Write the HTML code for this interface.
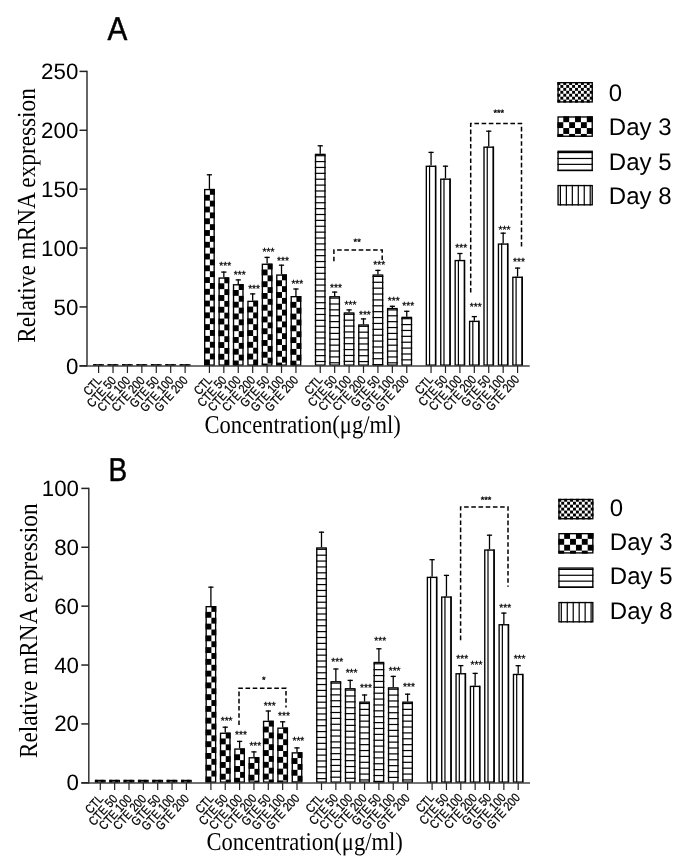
<!DOCTYPE html>
<html><head><meta charset="utf-8"><style>
html,body{margin:0;padding:0;background:#fff;}
svg{display:block;}
text{text-rendering:geometricPrecision;}
.wrap{will-change:transform;}
text{fill:#000;}
.yt{font-family:"Liberation Sans",sans-serif;font-size:22.3px;}
.xt{font-family:"Liberation Sans",sans-serif;font-size:12.5px;stroke:#000;stroke-width:0.25px;}
.st{font-family:"Liberation Sans",sans-serif;fill:#000;stroke:#000;stroke-width:0.3px;}
.lg{font-family:"Liberation Sans",sans-serif;font-size:24px;}
.ti{font-family:"Liberation Sans",sans-serif;font-size:33px;stroke:#000;stroke-width:0.5px;}
.yl{font-family:"Liberation Serif",serif;font-size:26px;}
.xl{font-family:"Liberation Serif",serif;font-size:25.5px;}
</style></head><body>
<div class="wrap"><svg width="685" height="857" viewBox="0 0 685 857">
<rect width="685" height="857" fill="#fff"/>
<rect x="93.2" y="364.2" width="2.94" height="1.6"/>
<rect x="99.08" y="364.2" width="2.94" height="1.6"/>
<rect x="93.87" y="364.88" width="9.45" height="0.25" fill="none" stroke="#000" stroke-width="1.35"/>
<rect x="107.62" y="364.2" width="2.94" height="1.6"/>
<rect x="113.5" y="364.2" width="2.94" height="1.6"/>
<rect x="108.29" y="364.88" width="9.45" height="0.25" fill="none" stroke="#000" stroke-width="1.35"/>
<rect x="122.04" y="364.2" width="2.94" height="1.6"/>
<rect x="127.92" y="364.2" width="2.94" height="1.6"/>
<rect x="122.71" y="364.88" width="9.45" height="0.25" fill="none" stroke="#000" stroke-width="1.35"/>
<rect x="136.46" y="364.2" width="2.94" height="1.6"/>
<rect x="142.34" y="364.2" width="2.94" height="1.6"/>
<rect x="137.13" y="364.88" width="9.45" height="0.25" fill="none" stroke="#000" stroke-width="1.35"/>
<rect x="150.88" y="364.2" width="2.94" height="1.6"/>
<rect x="156.76" y="364.2" width="2.94" height="1.6"/>
<rect x="151.56" y="364.88" width="9.45" height="0.25" fill="none" stroke="#000" stroke-width="1.35"/>
<rect x="165.3" y="364.2" width="2.94" height="1.6"/>
<rect x="171.18" y="364.2" width="2.94" height="1.6"/>
<rect x="165.97" y="364.88" width="9.45" height="0.25" fill="none" stroke="#000" stroke-width="1.35"/>
<rect x="179.72" y="364.2" width="2.94" height="1.6"/>
<rect x="185.6" y="364.2" width="2.94" height="1.6"/>
<rect x="180.4" y="364.88" width="9.45" height="0.25" fill="none" stroke="#000" stroke-width="1.35"/>
<rect x="209.9" y="188.9" width="4.92" height="5.88"/>
<rect x="204.02" y="194.78" width="5.88" height="5.88"/>
<rect x="209.9" y="200.66" width="4.92" height="5.88"/>
<rect x="204.02" y="206.54" width="5.88" height="5.88"/>
<rect x="209.9" y="212.42" width="4.92" height="5.88"/>
<rect x="204.02" y="218.3" width="5.88" height="5.88"/>
<rect x="209.9" y="224.18" width="4.92" height="5.88"/>
<rect x="204.02" y="230.06" width="5.88" height="5.88"/>
<rect x="209.9" y="235.94" width="4.92" height="5.88"/>
<rect x="204.02" y="241.82" width="5.88" height="5.88"/>
<rect x="209.9" y="247.7" width="4.92" height="5.88"/>
<rect x="204.02" y="253.58" width="5.88" height="5.88"/>
<rect x="209.9" y="259.46" width="4.92" height="5.88"/>
<rect x="204.02" y="265.34" width="5.88" height="5.88"/>
<rect x="209.9" y="271.22" width="4.92" height="5.88"/>
<rect x="204.02" y="277.1" width="5.88" height="5.88"/>
<rect x="209.9" y="282.98" width="4.92" height="5.88"/>
<rect x="204.02" y="288.86" width="5.88" height="5.88"/>
<rect x="209.9" y="294.74" width="4.92" height="5.88"/>
<rect x="204.02" y="300.62" width="5.88" height="5.88"/>
<rect x="209.9" y="306.5" width="4.92" height="5.88"/>
<rect x="204.02" y="312.38" width="5.88" height="5.88"/>
<rect x="209.9" y="318.26" width="4.92" height="5.88"/>
<rect x="204.02" y="324.14" width="5.88" height="5.88"/>
<rect x="209.9" y="330.02" width="4.92" height="5.88"/>
<rect x="204.02" y="335.9" width="5.88" height="5.88"/>
<rect x="209.9" y="341.78" width="4.92" height="5.88"/>
<rect x="204.02" y="347.66" width="5.88" height="5.88"/>
<rect x="209.9" y="353.54" width="4.92" height="5.88"/>
<rect x="204.02" y="359.42" width="5.88" height="5.88"/>
<rect x="209.9" y="365.3" width="4.92" height="0.5"/>
<rect x="204.69" y="189.58" width="9.45" height="175.55" fill="none" stroke="#000" stroke-width="1.35"/>
<line x1="209.42" y1="188.9" x2="209.42" y2="174.2" stroke="#000" stroke-width="1.3"/><line x1="206.82" y1="174.8" x2="212.02" y2="174.8" stroke="#000" stroke-width="1.3"/>
<rect x="224.32" y="277.4" width="4.92" height="5.88"/>
<rect x="218.44" y="283.28" width="5.88" height="5.88"/>
<rect x="224.32" y="289.16" width="4.92" height="5.88"/>
<rect x="218.44" y="295.04" width="5.88" height="5.88"/>
<rect x="224.32" y="300.92" width="4.92" height="5.88"/>
<rect x="218.44" y="306.8" width="5.88" height="5.88"/>
<rect x="224.32" y="312.68" width="4.92" height="5.88"/>
<rect x="218.44" y="318.56" width="5.88" height="5.88"/>
<rect x="224.32" y="324.44" width="4.92" height="5.88"/>
<rect x="218.44" y="330.32" width="5.88" height="5.88"/>
<rect x="224.32" y="336.2" width="4.92" height="5.88"/>
<rect x="218.44" y="342.08" width="5.88" height="5.88"/>
<rect x="224.32" y="347.96" width="4.92" height="5.88"/>
<rect x="218.44" y="353.84" width="5.88" height="5.88"/>
<rect x="224.32" y="359.72" width="4.92" height="5.88"/>
<rect x="218.44" y="365.6" width="5.88" height="0.2"/>
<rect x="219.11" y="278.07" width="9.45" height="87.05" fill="none" stroke="#000" stroke-width="1.35"/>
<line x1="223.84" y1="277.4" x2="223.84" y2="271.5" stroke="#000" stroke-width="1.3"/><line x1="221.24" y1="272.1" x2="226.44" y2="272.1" stroke="#000" stroke-width="1.3"/>
<text x="225.24" y="268.7" font-size="10.2" text-anchor="middle" class="st">***</text>
<rect x="238.74" y="284.1" width="4.92" height="5.88"/>
<rect x="232.86" y="289.98" width="5.88" height="5.88"/>
<rect x="238.74" y="295.86" width="4.92" height="5.88"/>
<rect x="232.86" y="301.74" width="5.88" height="5.88"/>
<rect x="238.74" y="307.62" width="4.92" height="5.88"/>
<rect x="232.86" y="313.5" width="5.88" height="5.88"/>
<rect x="238.74" y="319.38" width="4.92" height="5.88"/>
<rect x="232.86" y="325.26" width="5.88" height="5.88"/>
<rect x="238.74" y="331.14" width="4.92" height="5.88"/>
<rect x="232.86" y="337.02" width="5.88" height="5.88"/>
<rect x="238.74" y="342.9" width="4.92" height="5.88"/>
<rect x="232.86" y="348.78" width="5.88" height="5.88"/>
<rect x="238.74" y="354.66" width="4.92" height="5.88"/>
<rect x="232.86" y="360.54" width="5.88" height="5.26"/>
<rect x="233.53" y="284.78" width="9.45" height="80.35" fill="none" stroke="#000" stroke-width="1.35"/>
<line x1="238.26" y1="284.1" x2="238.26" y2="279.3" stroke="#000" stroke-width="1.3"/><line x1="235.66" y1="279.9" x2="240.86" y2="279.9" stroke="#000" stroke-width="1.3"/>
<text x="239.66" y="277.5" font-size="10.2" text-anchor="middle" class="st">***</text>
<rect x="253.16" y="300.7" width="4.92" height="5.88"/>
<rect x="247.28" y="306.58" width="5.88" height="5.88"/>
<rect x="253.16" y="312.46" width="4.92" height="5.88"/>
<rect x="247.28" y="318.34" width="5.88" height="5.88"/>
<rect x="253.16" y="324.22" width="4.92" height="5.88"/>
<rect x="247.28" y="330.1" width="5.88" height="5.88"/>
<rect x="253.16" y="335.98" width="4.92" height="5.88"/>
<rect x="247.28" y="341.86" width="5.88" height="5.88"/>
<rect x="253.16" y="347.74" width="4.92" height="5.88"/>
<rect x="247.28" y="353.62" width="5.88" height="5.88"/>
<rect x="253.16" y="359.5" width="4.92" height="5.88"/>
<rect x="247.28" y="365.38" width="5.88" height="0.42"/>
<rect x="247.95" y="301.38" width="9.45" height="63.75" fill="none" stroke="#000" stroke-width="1.35"/>
<line x1="252.68" y1="300.7" x2="252.68" y2="293.3" stroke="#000" stroke-width="1.3"/><line x1="250.08" y1="293.9" x2="255.28" y2="293.9" stroke="#000" stroke-width="1.3"/>
<text x="254.08" y="291.7" font-size="10.2" text-anchor="middle" class="st">***</text>
<rect x="267.58" y="263.6" width="4.92" height="5.88"/>
<rect x="261.7" y="269.48" width="5.88" height="5.88"/>
<rect x="267.58" y="275.36" width="4.92" height="5.88"/>
<rect x="261.7" y="281.24" width="5.88" height="5.88"/>
<rect x="267.58" y="287.12" width="4.92" height="5.88"/>
<rect x="261.7" y="293" width="5.88" height="5.88"/>
<rect x="267.58" y="298.88" width="4.92" height="5.88"/>
<rect x="261.7" y="304.76" width="5.88" height="5.88"/>
<rect x="267.58" y="310.64" width="4.92" height="5.88"/>
<rect x="261.7" y="316.52" width="5.88" height="5.88"/>
<rect x="267.58" y="322.4" width="4.92" height="5.88"/>
<rect x="261.7" y="328.28" width="5.88" height="5.88"/>
<rect x="267.58" y="334.16" width="4.92" height="5.88"/>
<rect x="261.7" y="340.04" width="5.88" height="5.88"/>
<rect x="267.58" y="345.92" width="4.92" height="5.88"/>
<rect x="261.7" y="351.8" width="5.88" height="5.88"/>
<rect x="267.58" y="357.68" width="4.92" height="5.88"/>
<rect x="261.7" y="363.56" width="5.88" height="2.24"/>
<rect x="262.38" y="264.28" width="9.45" height="100.85" fill="none" stroke="#000" stroke-width="1.35"/>
<line x1="267.1" y1="263.6" x2="267.1" y2="256.8" stroke="#000" stroke-width="1.3"/><line x1="264.5" y1="257.4" x2="269.7" y2="257.4" stroke="#000" stroke-width="1.3"/>
<text x="268.5" y="254.9" font-size="10.2" text-anchor="middle" class="st">***</text>
<rect x="282" y="274.4" width="4.92" height="5.88"/>
<rect x="276.12" y="280.28" width="5.88" height="5.88"/>
<rect x="282" y="286.16" width="4.92" height="5.88"/>
<rect x="276.12" y="292.04" width="5.88" height="5.88"/>
<rect x="282" y="297.92" width="4.92" height="5.88"/>
<rect x="276.12" y="303.8" width="5.88" height="5.88"/>
<rect x="282" y="309.68" width="4.92" height="5.88"/>
<rect x="276.12" y="315.56" width="5.88" height="5.88"/>
<rect x="282" y="321.44" width="4.92" height="5.88"/>
<rect x="276.12" y="327.32" width="5.88" height="5.88"/>
<rect x="282" y="333.2" width="4.92" height="5.88"/>
<rect x="276.12" y="339.08" width="5.88" height="5.88"/>
<rect x="282" y="344.96" width="4.92" height="5.88"/>
<rect x="276.12" y="350.84" width="5.88" height="5.88"/>
<rect x="282" y="356.72" width="4.92" height="5.88"/>
<rect x="276.12" y="362.6" width="5.88" height="3.2"/>
<rect x="276.8" y="275.07" width="9.45" height="90.05" fill="none" stroke="#000" stroke-width="1.35"/>
<line x1="281.52" y1="274.4" x2="281.52" y2="264.6" stroke="#000" stroke-width="1.3"/><line x1="278.92" y1="265.2" x2="284.12" y2="265.2" stroke="#000" stroke-width="1.3"/>
<text x="282.92" y="263.5" font-size="10.2" text-anchor="middle" class="st">***</text>
<rect x="296.42" y="296" width="4.92" height="5.88"/>
<rect x="290.54" y="301.88" width="5.88" height="5.88"/>
<rect x="296.42" y="307.76" width="4.92" height="5.88"/>
<rect x="290.54" y="313.64" width="5.88" height="5.88"/>
<rect x="296.42" y="319.52" width="4.92" height="5.88"/>
<rect x="290.54" y="325.4" width="5.88" height="5.88"/>
<rect x="296.42" y="331.28" width="4.92" height="5.88"/>
<rect x="290.54" y="337.16" width="5.88" height="5.88"/>
<rect x="296.42" y="343.04" width="4.92" height="5.88"/>
<rect x="290.54" y="348.92" width="5.88" height="5.88"/>
<rect x="296.42" y="354.8" width="4.92" height="5.88"/>
<rect x="290.54" y="360.68" width="5.88" height="5.12"/>
<rect x="291.22" y="296.68" width="9.45" height="68.45" fill="none" stroke="#000" stroke-width="1.35"/>
<line x1="295.94" y1="296" x2="295.94" y2="288.4" stroke="#000" stroke-width="1.3"/><line x1="293.34" y1="289" x2="298.54" y2="289" stroke="#000" stroke-width="1.3"/>
<text x="297.34" y="287.1" font-size="10.2" text-anchor="middle" class="st">***</text>
<rect x="314.84" y="155.1" width="10.8" height="1.2"/>
<rect x="314.84" y="160.98" width="10.8" height="1.2"/>
<rect x="314.84" y="166.86" width="10.8" height="1.2"/>
<rect x="314.84" y="172.74" width="10.8" height="1.2"/>
<rect x="314.84" y="178.62" width="10.8" height="1.2"/>
<rect x="314.84" y="184.5" width="10.8" height="1.2"/>
<rect x="314.84" y="190.38" width="10.8" height="1.2"/>
<rect x="314.84" y="196.26" width="10.8" height="1.2"/>
<rect x="314.84" y="202.14" width="10.8" height="1.2"/>
<rect x="314.84" y="208.02" width="10.8" height="1.2"/>
<rect x="314.84" y="213.9" width="10.8" height="1.2"/>
<rect x="314.84" y="219.78" width="10.8" height="1.2"/>
<rect x="314.84" y="225.66" width="10.8" height="1.2"/>
<rect x="314.84" y="231.54" width="10.8" height="1.2"/>
<rect x="314.84" y="237.42" width="10.8" height="1.2"/>
<rect x="314.84" y="243.3" width="10.8" height="1.2"/>
<rect x="314.84" y="249.18" width="10.8" height="1.2"/>
<rect x="314.84" y="255.06" width="10.8" height="1.2"/>
<rect x="314.84" y="260.94" width="10.8" height="1.2"/>
<rect x="314.84" y="266.82" width="10.8" height="1.2"/>
<rect x="314.84" y="272.7" width="10.8" height="1.2"/>
<rect x="314.84" y="278.58" width="10.8" height="1.2"/>
<rect x="314.84" y="284.46" width="10.8" height="1.2"/>
<rect x="314.84" y="290.34" width="10.8" height="1.2"/>
<rect x="314.84" y="296.22" width="10.8" height="1.2"/>
<rect x="314.84" y="302.1" width="10.8" height="1.2"/>
<rect x="314.84" y="307.98" width="10.8" height="1.2"/>
<rect x="314.84" y="313.86" width="10.8" height="1.2"/>
<rect x="314.84" y="319.74" width="10.8" height="1.2"/>
<rect x="314.84" y="325.62" width="10.8" height="1.2"/>
<rect x="314.84" y="331.5" width="10.8" height="1.2"/>
<rect x="314.84" y="337.38" width="10.8" height="1.2"/>
<rect x="314.84" y="343.26" width="10.8" height="1.2"/>
<rect x="314.84" y="349.14" width="10.8" height="1.2"/>
<rect x="314.84" y="355.02" width="10.8" height="1.2"/>
<rect x="314.84" y="360.9" width="10.8" height="1.2"/>
<rect x="315.52" y="154.38" width="9.45" height="210.75" fill="none" stroke="#000" stroke-width="1.35"/>
<line x1="320.24" y1="153.7" x2="320.24" y2="145.2" stroke="#000" stroke-width="1.3"/><line x1="317.64" y1="145.8" x2="322.84" y2="145.8" stroke="#000" stroke-width="1.3"/>
<rect x="329.26" y="297.5" width="10.8" height="1.2"/>
<rect x="329.26" y="303.38" width="10.8" height="1.2"/>
<rect x="329.26" y="309.26" width="10.8" height="1.2"/>
<rect x="329.26" y="315.14" width="10.8" height="1.2"/>
<rect x="329.26" y="321.02" width="10.8" height="1.2"/>
<rect x="329.26" y="326.9" width="10.8" height="1.2"/>
<rect x="329.26" y="332.78" width="10.8" height="1.2"/>
<rect x="329.26" y="338.66" width="10.8" height="1.2"/>
<rect x="329.26" y="344.54" width="10.8" height="1.2"/>
<rect x="329.26" y="350.42" width="10.8" height="1.2"/>
<rect x="329.26" y="356.3" width="10.8" height="1.2"/>
<rect x="329.26" y="362.18" width="10.8" height="1.2"/>
<rect x="329.94" y="296.78" width="9.45" height="68.35" fill="none" stroke="#000" stroke-width="1.35"/>
<line x1="334.66" y1="296.1" x2="334.66" y2="291.5" stroke="#000" stroke-width="1.3"/><line x1="332.06" y1="292.1" x2="337.26" y2="292.1" stroke="#000" stroke-width="1.3"/>
<text x="336.06" y="290.7" font-size="10.2" text-anchor="middle" class="st">***</text>
<rect x="343.68" y="313.7" width="10.8" height="1.2"/>
<rect x="343.68" y="319.58" width="10.8" height="1.2"/>
<rect x="343.68" y="325.46" width="10.8" height="1.2"/>
<rect x="343.68" y="331.34" width="10.8" height="1.2"/>
<rect x="343.68" y="337.22" width="10.8" height="1.2"/>
<rect x="343.68" y="343.1" width="10.8" height="1.2"/>
<rect x="343.68" y="348.98" width="10.8" height="1.2"/>
<rect x="343.68" y="354.86" width="10.8" height="1.2"/>
<rect x="343.68" y="360.74" width="10.8" height="1.2"/>
<rect x="344.36" y="312.98" width="9.45" height="52.15" fill="none" stroke="#000" stroke-width="1.35"/>
<line x1="349.08" y1="312.3" x2="349.08" y2="309.3" stroke="#000" stroke-width="1.3"/><line x1="346.48" y1="309.9" x2="351.68" y2="309.9" stroke="#000" stroke-width="1.3"/>
<text x="350.48" y="307.8" font-size="10.2" text-anchor="middle" class="st">***</text>
<rect x="358.1" y="325.7" width="10.8" height="1.2"/>
<rect x="358.1" y="331.58" width="10.8" height="1.2"/>
<rect x="358.1" y="337.46" width="10.8" height="1.2"/>
<rect x="358.1" y="343.34" width="10.8" height="1.2"/>
<rect x="358.1" y="349.22" width="10.8" height="1.2"/>
<rect x="358.1" y="355.1" width="10.8" height="1.2"/>
<rect x="358.1" y="360.98" width="10.8" height="1.2"/>
<rect x="358.78" y="324.98" width="9.45" height="40.15" fill="none" stroke="#000" stroke-width="1.35"/>
<line x1="363.5" y1="324.3" x2="363.5" y2="318.3" stroke="#000" stroke-width="1.3"/><line x1="360.9" y1="318.9" x2="366.1" y2="318.9" stroke="#000" stroke-width="1.3"/>
<text x="364.9" y="317.9" font-size="10.2" text-anchor="middle" class="st">***</text>
<rect x="372.52" y="275.8" width="10.8" height="1.2"/>
<rect x="372.52" y="281.68" width="10.8" height="1.2"/>
<rect x="372.52" y="287.56" width="10.8" height="1.2"/>
<rect x="372.52" y="293.44" width="10.8" height="1.2"/>
<rect x="372.52" y="299.32" width="10.8" height="1.2"/>
<rect x="372.52" y="305.2" width="10.8" height="1.2"/>
<rect x="372.52" y="311.08" width="10.8" height="1.2"/>
<rect x="372.52" y="316.96" width="10.8" height="1.2"/>
<rect x="372.52" y="322.84" width="10.8" height="1.2"/>
<rect x="372.52" y="328.72" width="10.8" height="1.2"/>
<rect x="372.52" y="334.6" width="10.8" height="1.2"/>
<rect x="372.52" y="340.48" width="10.8" height="1.2"/>
<rect x="372.52" y="346.36" width="10.8" height="1.2"/>
<rect x="372.52" y="352.24" width="10.8" height="1.2"/>
<rect x="372.52" y="358.12" width="10.8" height="1.2"/>
<rect x="372.52" y="364" width="10.8" height="1.2"/>
<rect x="373.2" y="275.07" width="9.45" height="90.05" fill="none" stroke="#000" stroke-width="1.35"/>
<line x1="377.92" y1="274.4" x2="377.92" y2="269.8" stroke="#000" stroke-width="1.3"/><line x1="375.32" y1="270.4" x2="380.52" y2="270.4" stroke="#000" stroke-width="1.3"/>
<text x="379.32" y="268.3" font-size="10.2" text-anchor="middle" class="st">***</text>
<rect x="386.94" y="309.3" width="10.8" height="1.2"/>
<rect x="386.94" y="315.18" width="10.8" height="1.2"/>
<rect x="386.94" y="321.06" width="10.8" height="1.2"/>
<rect x="386.94" y="326.94" width="10.8" height="1.2"/>
<rect x="386.94" y="332.82" width="10.8" height="1.2"/>
<rect x="386.94" y="338.7" width="10.8" height="1.2"/>
<rect x="386.94" y="344.58" width="10.8" height="1.2"/>
<rect x="386.94" y="350.46" width="10.8" height="1.2"/>
<rect x="386.94" y="356.34" width="10.8" height="1.2"/>
<rect x="386.94" y="362.22" width="10.8" height="1.2"/>
<rect x="387.62" y="308.57" width="9.45" height="56.55" fill="none" stroke="#000" stroke-width="1.35"/>
<line x1="392.34" y1="307.9" x2="392.34" y2="305.7" stroke="#000" stroke-width="1.3"/><line x1="389.74" y1="306.3" x2="394.94" y2="306.3" stroke="#000" stroke-width="1.3"/>
<text x="393.74" y="303.7" font-size="10.2" text-anchor="middle" class="st">***</text>
<rect x="401.36" y="318.1" width="10.8" height="1.2"/>
<rect x="401.36" y="323.98" width="10.8" height="1.2"/>
<rect x="401.36" y="329.86" width="10.8" height="1.2"/>
<rect x="401.36" y="335.74" width="10.8" height="1.2"/>
<rect x="401.36" y="341.62" width="10.8" height="1.2"/>
<rect x="401.36" y="347.5" width="10.8" height="1.2"/>
<rect x="401.36" y="353.38" width="10.8" height="1.2"/>
<rect x="401.36" y="359.26" width="10.8" height="1.2"/>
<rect x="402.04" y="317.38" width="9.45" height="47.75" fill="none" stroke="#000" stroke-width="1.35"/>
<line x1="406.76" y1="316.7" x2="406.76" y2="310.7" stroke="#000" stroke-width="1.3"/><line x1="404.16" y1="311.3" x2="409.36" y2="311.3" stroke="#000" stroke-width="1.3"/>
<text x="408.16" y="309.4" font-size="10.2" text-anchor="middle" class="st">***</text>
<rect x="428.96" y="165.6" width="1.2" height="200.2"/>
<rect x="434.84" y="165.6" width="1.2" height="200.2"/>
<rect x="426.33" y="166.28" width="9.45" height="198.85" fill="none" stroke="#000" stroke-width="1.35"/>
<line x1="431.06" y1="165.6" x2="431.06" y2="151.8" stroke="#000" stroke-width="1.3"/><line x1="428.46" y1="152.4" x2="433.66" y2="152.4" stroke="#000" stroke-width="1.3"/>
<rect x="443.38" y="178.5" width="1.2" height="187.3"/>
<rect x="449.26" y="178.5" width="1.2" height="187.3"/>
<rect x="440.75" y="179.18" width="9.45" height="185.95" fill="none" stroke="#000" stroke-width="1.35"/>
<line x1="445.48" y1="178.5" x2="445.48" y2="165.6" stroke="#000" stroke-width="1.3"/><line x1="442.88" y1="166.2" x2="448.08" y2="166.2" stroke="#000" stroke-width="1.3"/>
<rect x="457.8" y="259.9" width="1.2" height="105.9"/>
<rect x="463.68" y="259.9" width="1.2" height="105.9"/>
<rect x="455.17" y="260.57" width="9.45" height="104.55" fill="none" stroke="#000" stroke-width="1.35"/>
<line x1="459.9" y1="259.9" x2="459.9" y2="252.9" stroke="#000" stroke-width="1.3"/><line x1="457.3" y1="253.5" x2="462.5" y2="253.5" stroke="#000" stroke-width="1.3"/>
<text x="461.3" y="250.6" font-size="10.2" text-anchor="middle" class="st">***</text>
<rect x="472.22" y="320.7" width="1.2" height="45.1"/>
<rect x="478.1" y="320.7" width="1.2" height="45.1"/>
<rect x="469.59" y="321.38" width="9.45" height="43.75" fill="none" stroke="#000" stroke-width="1.35"/>
<line x1="474.32" y1="320.7" x2="474.32" y2="316" stroke="#000" stroke-width="1.3"/><line x1="471.72" y1="316.6" x2="476.92" y2="316.6" stroke="#000" stroke-width="1.3"/>
<text x="475.72" y="310.1" font-size="10.2" text-anchor="middle" class="st">***</text>
<rect x="486.64" y="146.5" width="1.2" height="219.3"/>
<rect x="492.52" y="146.5" width="1.2" height="219.3"/>
<rect x="484.01" y="147.18" width="9.45" height="217.95" fill="none" stroke="#000" stroke-width="1.35"/>
<line x1="488.74" y1="146.5" x2="488.74" y2="130.6" stroke="#000" stroke-width="1.3"/><line x1="486.14" y1="131.2" x2="491.34" y2="131.2" stroke="#000" stroke-width="1.3"/>
<rect x="501.06" y="243.4" width="1.2" height="122.4"/>
<rect x="506.94" y="243.4" width="1.2" height="122.4"/>
<rect x="498.44" y="244.08" width="9.45" height="121.05" fill="none" stroke="#000" stroke-width="1.35"/>
<line x1="503.16" y1="243.4" x2="503.16" y2="232.6" stroke="#000" stroke-width="1.3"/><line x1="500.56" y1="233.2" x2="505.76" y2="233.2" stroke="#000" stroke-width="1.3"/>
<text x="504.56" y="233.1" font-size="10.2" text-anchor="middle" class="st">***</text>
<rect x="515.48" y="276.6" width="1.2" height="89.2"/>
<rect x="521.36" y="276.6" width="1.2" height="89.2"/>
<rect x="512.85" y="277.28" width="9.45" height="87.85" fill="none" stroke="#000" stroke-width="1.35"/>
<line x1="517.58" y1="276.6" x2="517.58" y2="267.5" stroke="#000" stroke-width="1.3"/><line x1="514.98" y1="268.1" x2="520.18" y2="268.1" stroke="#000" stroke-width="1.3"/>
<text x="518.98" y="265.2" font-size="10.2" text-anchor="middle" class="st">***</text>
<line x1="87" y1="70.7" x2="87" y2="366.6" stroke="#333" stroke-width="1.5"/>
<line x1="79.5" y1="366" x2="529.7" y2="366" stroke="#444" stroke-width="1.5"/>
<line x1="79.5" y1="365.8" x2="87" y2="365.8" stroke="#222" stroke-width="1.5"/>
<text x="78.3" y="373.8" text-anchor="end" class="yt">0</text>
<line x1="79.5" y1="306.92" x2="87" y2="306.92" stroke="#222" stroke-width="1.5"/>
<text x="78.3" y="314.92" text-anchor="end" class="yt">50</text>
<line x1="79.5" y1="248.04" x2="87" y2="248.04" stroke="#222" stroke-width="1.5"/>
<text x="78.3" y="256.04" text-anchor="end" class="yt">100</text>
<line x1="79.5" y1="189.16" x2="87" y2="189.16" stroke="#222" stroke-width="1.5"/>
<text x="78.3" y="197.16" text-anchor="end" class="yt">150</text>
<line x1="79.5" y1="130.28" x2="87" y2="130.28" stroke="#222" stroke-width="1.5"/>
<text x="78.3" y="138.28" text-anchor="end" class="yt">200</text>
<line x1="79.5" y1="71.4" x2="87" y2="71.4" stroke="#222" stroke-width="1.5"/>
<text x="78.3" y="79.4" text-anchor="end" class="yt">250</text>
<line x1="98.6" y1="365.8" x2="98.6" y2="373" stroke="#222" stroke-width="1.2"/>
<line x1="113.02" y1="365.8" x2="113.02" y2="373" stroke="#222" stroke-width="1.2"/>
<line x1="127.44" y1="365.8" x2="127.44" y2="373" stroke="#222" stroke-width="1.2"/>
<line x1="141.86" y1="365.8" x2="141.86" y2="373" stroke="#222" stroke-width="1.2"/>
<line x1="156.28" y1="365.8" x2="156.28" y2="373" stroke="#222" stroke-width="1.2"/>
<line x1="170.7" y1="365.8" x2="170.7" y2="373" stroke="#222" stroke-width="1.2"/>
<line x1="185.12" y1="365.8" x2="185.12" y2="373" stroke="#222" stroke-width="1.2"/>
<line x1="209.42" y1="365.8" x2="209.42" y2="373" stroke="#222" stroke-width="1.2"/>
<line x1="223.84" y1="365.8" x2="223.84" y2="373" stroke="#222" stroke-width="1.2"/>
<line x1="238.26" y1="365.8" x2="238.26" y2="373" stroke="#222" stroke-width="1.2"/>
<line x1="252.68" y1="365.8" x2="252.68" y2="373" stroke="#222" stroke-width="1.2"/>
<line x1="267.1" y1="365.8" x2="267.1" y2="373" stroke="#222" stroke-width="1.2"/>
<line x1="281.52" y1="365.8" x2="281.52" y2="373" stroke="#222" stroke-width="1.2"/>
<line x1="295.94" y1="365.8" x2="295.94" y2="373" stroke="#222" stroke-width="1.2"/>
<line x1="320.24" y1="365.8" x2="320.24" y2="373" stroke="#222" stroke-width="1.2"/>
<line x1="334.66" y1="365.8" x2="334.66" y2="373" stroke="#222" stroke-width="1.2"/>
<line x1="349.08" y1="365.8" x2="349.08" y2="373" stroke="#222" stroke-width="1.2"/>
<line x1="363.5" y1="365.8" x2="363.5" y2="373" stroke="#222" stroke-width="1.2"/>
<line x1="377.92" y1="365.8" x2="377.92" y2="373" stroke="#222" stroke-width="1.2"/>
<line x1="392.34" y1="365.8" x2="392.34" y2="373" stroke="#222" stroke-width="1.2"/>
<line x1="406.76" y1="365.8" x2="406.76" y2="373" stroke="#222" stroke-width="1.2"/>
<line x1="431.06" y1="365.8" x2="431.06" y2="373" stroke="#222" stroke-width="1.2"/>
<line x1="445.48" y1="365.8" x2="445.48" y2="373" stroke="#222" stroke-width="1.2"/>
<line x1="459.9" y1="365.8" x2="459.9" y2="373" stroke="#222" stroke-width="1.2"/>
<line x1="474.32" y1="365.8" x2="474.32" y2="373" stroke="#222" stroke-width="1.2"/>
<line x1="488.74" y1="365.8" x2="488.74" y2="373" stroke="#222" stroke-width="1.2"/>
<line x1="503.16" y1="365.8" x2="503.16" y2="373" stroke="#222" stroke-width="1.2"/>
<line x1="517.58" y1="365.8" x2="517.58" y2="373" stroke="#222" stroke-width="1.2"/>
<text transform="translate(102.3,381.1) rotate(-48) scale(0.86,1)" text-anchor="end" class="xt">CTL</text>
<text transform="translate(116.68,381.06) rotate(-48) scale(0.86,1)" text-anchor="end" class="xt">CTE 50</text>
<text transform="translate(131.06,381.02) rotate(-48) scale(0.86,1)" text-anchor="end" class="xt">CTE 100</text>
<text transform="translate(145.44,380.97) rotate(-48) scale(0.86,1)" text-anchor="end" class="xt">CTE 200</text>
<text transform="translate(159.82,380.93) rotate(-48) scale(0.86,1)" text-anchor="end" class="xt">GTE 50</text>
<text transform="translate(174.2,380.88) rotate(-48) scale(0.86,1)" text-anchor="end" class="xt">GTE 100</text>
<text transform="translate(188.58,380.84) rotate(-48) scale(0.86,1)" text-anchor="end" class="xt">GTE 200</text>
<text transform="translate(212.81,380.76) rotate(-48) scale(0.86,1)" text-anchor="end" class="xt">CTL</text>
<text transform="translate(227.19,380.72) rotate(-48) scale(0.86,1)" text-anchor="end" class="xt">CTE 50</text>
<text transform="translate(241.56,380.67) rotate(-48) scale(0.86,1)" text-anchor="end" class="xt">CTE 100</text>
<text transform="translate(255.94,380.63) rotate(-48) scale(0.86,1)" text-anchor="end" class="xt">CTE 200</text>
<text transform="translate(270.32,380.58) rotate(-48) scale(0.86,1)" text-anchor="end" class="xt">GTE 50</text>
<text transform="translate(284.7,380.54) rotate(-48) scale(0.86,1)" text-anchor="end" class="xt">GTE 100</text>
<text transform="translate(299.08,380.49) rotate(-48) scale(0.86,1)" text-anchor="end" class="xt">GTE 200</text>
<text transform="translate(323.31,380.42) rotate(-48) scale(0.86,1)" text-anchor="end" class="xt">CTL</text>
<text transform="translate(337.69,380.37) rotate(-48) scale(0.86,1)" text-anchor="end" class="xt">CTE 50</text>
<text transform="translate(352.07,380.33) rotate(-48) scale(0.86,1)" text-anchor="end" class="xt">CTE 100</text>
<text transform="translate(366.45,380.28) rotate(-48) scale(0.86,1)" text-anchor="end" class="xt">CTE 200</text>
<text transform="translate(380.83,380.24) rotate(-48) scale(0.86,1)" text-anchor="end" class="xt">GTE 50</text>
<text transform="translate(395.2,380.2) rotate(-48) scale(0.86,1)" text-anchor="end" class="xt">GTE 100</text>
<text transform="translate(409.58,380.15) rotate(-48) scale(0.86,1)" text-anchor="end" class="xt">GTE 200</text>
<text transform="translate(433.81,380.08) rotate(-48) scale(0.86,1)" text-anchor="end" class="xt">CTL</text>
<text transform="translate(448.19,380.03) rotate(-48) scale(0.86,1)" text-anchor="end" class="xt">CTE 50</text>
<text transform="translate(462.57,379.99) rotate(-48) scale(0.86,1)" text-anchor="end" class="xt">CTE 100</text>
<text transform="translate(476.95,379.94) rotate(-48) scale(0.86,1)" text-anchor="end" class="xt">CTE 200</text>
<text transform="translate(491.33,379.9) rotate(-48) scale(0.86,1)" text-anchor="end" class="xt">GTE 50</text>
<text transform="translate(505.71,379.85) rotate(-48) scale(0.86,1)" text-anchor="end" class="xt">GTE 100</text>
<text transform="translate(520.09,379.81) rotate(-48) scale(0.86,1)" text-anchor="end" class="xt">GTE 200</text>
<path d="M333.9,261.3 L333.9,250.1 L382.2,250.1 L382.2,260.6" fill="none" stroke="#000" stroke-width="1.5" stroke-dasharray="4.6,2.6"/>
<text x="357.2" y="244.7" font-size="9.2" text-anchor="middle" class="st">**</text>
<path d="M470.7,292.6 L470.7,123.5 L521.5,123.5 L521.5,246.6" fill="none" stroke="#000" stroke-width="1.5" stroke-dasharray="4.6,2.6"/>
<text x="498.8" y="116.2" font-size="9.2" text-anchor="middle" class="st">***</text>
<rect x="557.4" y="82" width="2.94" height="2.94"/>
<rect x="563.28" y="82" width="2.94" height="2.94"/>
<rect x="569.16" y="82" width="2.94" height="2.94"/>
<rect x="575.04" y="82" width="2.94" height="2.94"/>
<rect x="580.92" y="82" width="2.94" height="2.94"/>
<rect x="586.8" y="82" width="2.94" height="2.94"/>
<rect x="592.68" y="82" width="0.22" height="2.94"/>
<rect x="560.34" y="84.94" width="2.94" height="2.94"/>
<rect x="566.22" y="84.94" width="2.94" height="2.94"/>
<rect x="572.1" y="84.94" width="2.94" height="2.94"/>
<rect x="577.98" y="84.94" width="2.94" height="2.94"/>
<rect x="583.86" y="84.94" width="2.94" height="2.94"/>
<rect x="589.74" y="84.94" width="2.94" height="2.94"/>
<rect x="557.4" y="87.88" width="2.94" height="2.94"/>
<rect x="563.28" y="87.88" width="2.94" height="2.94"/>
<rect x="569.16" y="87.88" width="2.94" height="2.94"/>
<rect x="575.04" y="87.88" width="2.94" height="2.94"/>
<rect x="580.92" y="87.88" width="2.94" height="2.94"/>
<rect x="586.8" y="87.88" width="2.94" height="2.94"/>
<rect x="592.68" y="87.88" width="0.22" height="2.94"/>
<rect x="560.34" y="90.82" width="2.94" height="2.94"/>
<rect x="566.22" y="90.82" width="2.94" height="2.94"/>
<rect x="572.1" y="90.82" width="2.94" height="2.94"/>
<rect x="577.98" y="90.82" width="2.94" height="2.94"/>
<rect x="583.86" y="90.82" width="2.94" height="2.94"/>
<rect x="589.74" y="90.82" width="2.94" height="2.94"/>
<rect x="557.4" y="93.76" width="2.94" height="2.94"/>
<rect x="563.28" y="93.76" width="2.94" height="2.94"/>
<rect x="569.16" y="93.76" width="2.94" height="2.94"/>
<rect x="575.04" y="93.76" width="2.94" height="2.94"/>
<rect x="580.92" y="93.76" width="2.94" height="2.94"/>
<rect x="586.8" y="93.76" width="2.94" height="2.94"/>
<rect x="592.68" y="93.76" width="0.22" height="2.94"/>
<rect x="560.34" y="96.7" width="2.94" height="2.94"/>
<rect x="566.22" y="96.7" width="2.94" height="2.94"/>
<rect x="572.1" y="96.7" width="2.94" height="2.94"/>
<rect x="577.98" y="96.7" width="2.94" height="2.94"/>
<rect x="583.86" y="96.7" width="2.94" height="2.94"/>
<rect x="589.74" y="96.7" width="2.94" height="2.94"/>
<rect x="557.4" y="99.64" width="2.94" height="2.94"/>
<rect x="563.28" y="99.64" width="2.94" height="2.94"/>
<rect x="569.16" y="99.64" width="2.94" height="2.94"/>
<rect x="575.04" y="99.64" width="2.94" height="2.94"/>
<rect x="580.92" y="99.64" width="2.94" height="2.94"/>
<rect x="586.8" y="99.64" width="2.94" height="2.94"/>
<rect x="592.68" y="99.64" width="0.22" height="2.94"/>
<rect x="560.34" y="102.58" width="2.94" height="0.02"/>
<rect x="566.22" y="102.58" width="2.94" height="0.02"/>
<rect x="572.1" y="102.58" width="2.94" height="0.02"/>
<rect x="577.98" y="102.58" width="2.94" height="0.02"/>
<rect x="583.86" y="102.58" width="2.94" height="0.02"/>
<rect x="589.74" y="102.58" width="2.94" height="0.02"/>
<rect x="558.07" y="82.67" width="34.15" height="19.25" fill="none" stroke="#000" stroke-width="1.35"/>
<text transform="translate(608.8,100.9) scale(1.0,1)" class="lg">0</text>
<rect x="563.28" y="116.3" width="5.88" height="5.88"/>
<rect x="575.04" y="116.3" width="5.88" height="5.88"/>
<rect x="586.8" y="116.3" width="5.88" height="5.88"/>
<rect x="557.4" y="122.18" width="5.88" height="5.88"/>
<rect x="569.16" y="122.18" width="5.88" height="5.88"/>
<rect x="580.92" y="122.18" width="5.88" height="5.88"/>
<rect x="592.68" y="122.18" width="0.22" height="5.88"/>
<rect x="563.28" y="128.06" width="5.88" height="5.88"/>
<rect x="575.04" y="128.06" width="5.88" height="5.88"/>
<rect x="586.8" y="128.06" width="5.88" height="5.88"/>
<rect x="557.4" y="133.94" width="5.88" height="2.96"/>
<rect x="569.16" y="133.94" width="5.88" height="2.96"/>
<rect x="580.92" y="133.94" width="5.88" height="2.96"/>
<rect x="592.68" y="133.94" width="0.22" height="2.96"/>
<rect x="558.07" y="116.97" width="34.15" height="19.25" fill="none" stroke="#000" stroke-width="1.35"/>
<text transform="translate(608.8,135.2) scale(1.0,1)" class="lg">Day 3</text>
<rect x="557.4" y="152" width="35.5" height="1.2"/>
<rect x="557.4" y="157.88" width="35.5" height="1.2"/>
<rect x="557.4" y="163.76" width="35.5" height="1.2"/>
<rect x="557.4" y="169.64" width="35.5" height="1.2"/>
<rect x="558.07" y="151.28" width="34.15" height="19.25" fill="none" stroke="#000" stroke-width="1.35"/>
<text transform="translate(608.8,169.5) scale(1.0,1)" class="lg">Day 5</text>
<rect x="559.8" y="184.9" width="1.2" height="20.6"/>
<rect x="565.76" y="184.9" width="1.2" height="20.6"/>
<rect x="571.72" y="184.9" width="1.2" height="20.6"/>
<rect x="577.68" y="184.9" width="1.2" height="20.6"/>
<rect x="583.64" y="184.9" width="1.2" height="20.6"/>
<rect x="589.6" y="184.9" width="1.2" height="20.6"/>
<rect x="558.07" y="185.58" width="34.15" height="19.25" fill="none" stroke="#000" stroke-width="1.35"/>
<text transform="translate(608.8,203.8) scale(1.0,1)" class="lg">Day 8</text>
<text transform="translate(107.5,40) scale(0.9,1)" class="ti">A</text>
<text transform="translate(35.3,215.5) rotate(-90) scale(0.895,1)" text-anchor="middle" class="yl">Relative mRNA expression</text>
<text transform="translate(204.5,433) scale(0.885,1)" class="xl">Concentration(μg/ml)</text>
<rect x="94.9" y="779.8" width="2.94" height="2.94"/>
<rect x="100.78" y="779.8" width="2.94" height="2.94"/>
<rect x="97.84" y="782.74" width="2.94" height="0.06"/>
<rect x="103.72" y="782.74" width="1.98" height="0.06"/>
<rect x="95.57" y="780.47" width="9.45" height="1.65" fill="none" stroke="#000" stroke-width="1.35"/>
<rect x="109.25" y="779.8" width="2.94" height="2.94"/>
<rect x="115.13" y="779.8" width="2.94" height="2.94"/>
<rect x="112.19" y="782.74" width="2.94" height="0.06"/>
<rect x="118.07" y="782.74" width="1.98" height="0.06"/>
<rect x="109.92" y="780.47" width="9.45" height="1.65" fill="none" stroke="#000" stroke-width="1.35"/>
<rect x="123.6" y="779.8" width="2.94" height="2.94"/>
<rect x="129.48" y="779.8" width="2.94" height="2.94"/>
<rect x="126.54" y="782.74" width="2.94" height="0.06"/>
<rect x="132.42" y="782.74" width="1.98" height="0.06"/>
<rect x="124.27" y="780.47" width="9.45" height="1.65" fill="none" stroke="#000" stroke-width="1.35"/>
<rect x="137.95" y="779.8" width="2.94" height="2.94"/>
<rect x="143.83" y="779.8" width="2.94" height="2.94"/>
<rect x="140.89" y="782.74" width="2.94" height="0.06"/>
<rect x="146.77" y="782.74" width="1.98" height="0.06"/>
<rect x="138.62" y="780.47" width="9.45" height="1.65" fill="none" stroke="#000" stroke-width="1.35"/>
<rect x="152.3" y="779.8" width="2.94" height="2.94"/>
<rect x="158.18" y="779.8" width="2.94" height="2.94"/>
<rect x="155.24" y="782.74" width="2.94" height="0.06"/>
<rect x="161.12" y="782.74" width="1.98" height="0.06"/>
<rect x="152.97" y="780.47" width="9.45" height="1.65" fill="none" stroke="#000" stroke-width="1.35"/>
<rect x="166.65" y="779.8" width="2.94" height="2.94"/>
<rect x="172.53" y="779.8" width="2.94" height="2.94"/>
<rect x="169.59" y="782.74" width="2.94" height="0.06"/>
<rect x="175.47" y="782.74" width="1.98" height="0.06"/>
<rect x="167.33" y="780.47" width="9.45" height="1.65" fill="none" stroke="#000" stroke-width="1.35"/>
<rect x="181" y="779.8" width="2.94" height="2.94"/>
<rect x="186.88" y="779.8" width="2.94" height="2.94"/>
<rect x="183.94" y="782.74" width="2.94" height="0.06"/>
<rect x="189.82" y="782.74" width="1.98" height="0.06"/>
<rect x="181.67" y="780.47" width="9.45" height="1.65" fill="none" stroke="#000" stroke-width="1.35"/>
<rect x="211.38" y="606" width="4.92" height="5.88"/>
<rect x="205.5" y="611.88" width="5.88" height="5.88"/>
<rect x="211.38" y="617.76" width="4.92" height="5.88"/>
<rect x="205.5" y="623.64" width="5.88" height="5.88"/>
<rect x="211.38" y="629.52" width="4.92" height="5.88"/>
<rect x="205.5" y="635.4" width="5.88" height="5.88"/>
<rect x="211.38" y="641.28" width="4.92" height="5.88"/>
<rect x="205.5" y="647.16" width="5.88" height="5.88"/>
<rect x="211.38" y="653.04" width="4.92" height="5.88"/>
<rect x="205.5" y="658.92" width="5.88" height="5.88"/>
<rect x="211.38" y="664.8" width="4.92" height="5.88"/>
<rect x="205.5" y="670.68" width="5.88" height="5.88"/>
<rect x="211.38" y="676.56" width="4.92" height="5.88"/>
<rect x="205.5" y="682.44" width="5.88" height="5.88"/>
<rect x="211.38" y="688.32" width="4.92" height="5.88"/>
<rect x="205.5" y="694.2" width="5.88" height="5.88"/>
<rect x="211.38" y="700.08" width="4.92" height="5.88"/>
<rect x="205.5" y="705.96" width="5.88" height="5.88"/>
<rect x="211.38" y="711.84" width="4.92" height="5.88"/>
<rect x="205.5" y="717.72" width="5.88" height="5.88"/>
<rect x="211.38" y="723.6" width="4.92" height="5.88"/>
<rect x="205.5" y="729.48" width="5.88" height="5.88"/>
<rect x="211.38" y="735.36" width="4.92" height="5.88"/>
<rect x="205.5" y="741.24" width="5.88" height="5.88"/>
<rect x="211.38" y="747.12" width="4.92" height="5.88"/>
<rect x="205.5" y="753" width="5.88" height="5.88"/>
<rect x="211.38" y="758.88" width="4.92" height="5.88"/>
<rect x="205.5" y="764.76" width="5.88" height="5.88"/>
<rect x="211.38" y="770.64" width="4.92" height="5.88"/>
<rect x="205.5" y="776.52" width="5.88" height="5.88"/>
<rect x="211.38" y="782.4" width="4.92" height="0.4"/>
<rect x="206.17" y="606.67" width="9.45" height="175.45" fill="none" stroke="#000" stroke-width="1.35"/>
<line x1="210.9" y1="606" x2="210.9" y2="586.6" stroke="#000" stroke-width="1.3"/><line x1="208.3" y1="587.2" x2="213.5" y2="587.2" stroke="#000" stroke-width="1.3"/>
<rect x="225.73" y="732.6" width="4.92" height="5.88"/>
<rect x="219.85" y="738.48" width="5.88" height="5.88"/>
<rect x="225.73" y="744.36" width="4.92" height="5.88"/>
<rect x="219.85" y="750.24" width="5.88" height="5.88"/>
<rect x="225.73" y="756.12" width="4.92" height="5.88"/>
<rect x="219.85" y="762" width="5.88" height="5.88"/>
<rect x="225.73" y="767.88" width="4.92" height="5.88"/>
<rect x="219.85" y="773.76" width="5.88" height="5.88"/>
<rect x="225.73" y="779.64" width="4.92" height="3.16"/>
<rect x="220.52" y="733.27" width="9.45" height="48.85" fill="none" stroke="#000" stroke-width="1.35"/>
<line x1="225.25" y1="732.6" x2="225.25" y2="726.6" stroke="#000" stroke-width="1.3"/><line x1="222.65" y1="727.2" x2="227.85" y2="727.2" stroke="#000" stroke-width="1.3"/>
<text x="226.65" y="723.8" font-size="10.2" text-anchor="middle" class="st">***</text>
<rect x="240.08" y="748.4" width="4.92" height="5.88"/>
<rect x="234.2" y="754.28" width="5.88" height="5.88"/>
<rect x="240.08" y="760.16" width="4.92" height="5.88"/>
<rect x="234.2" y="766.04" width="5.88" height="5.88"/>
<rect x="240.08" y="771.92" width="4.92" height="5.88"/>
<rect x="234.2" y="777.8" width="5.88" height="5"/>
<rect x="234.87" y="749.07" width="9.45" height="33.05" fill="none" stroke="#000" stroke-width="1.35"/>
<line x1="239.6" y1="748.4" x2="239.6" y2="740.8" stroke="#000" stroke-width="1.3"/><line x1="237" y1="741.4" x2="242.2" y2="741.4" stroke="#000" stroke-width="1.3"/>
<text x="241" y="738" font-size="10.2" text-anchor="middle" class="st">***</text>
<rect x="254.43" y="757.1" width="4.92" height="5.88"/>
<rect x="248.55" y="762.98" width="5.88" height="5.88"/>
<rect x="254.43" y="768.86" width="4.92" height="5.88"/>
<rect x="248.55" y="774.74" width="5.88" height="5.88"/>
<rect x="254.43" y="780.62" width="4.92" height="2.18"/>
<rect x="249.22" y="757.77" width="9.45" height="24.35" fill="none" stroke="#000" stroke-width="1.35"/>
<line x1="253.95" y1="757.1" x2="253.95" y2="751.3" stroke="#000" stroke-width="1.3"/><line x1="251.35" y1="751.9" x2="256.55" y2="751.9" stroke="#000" stroke-width="1.3"/>
<text x="255.35" y="748.6" font-size="10.2" text-anchor="middle" class="st">***</text>
<rect x="268.78" y="720.7" width="4.92" height="5.88"/>
<rect x="262.9" y="726.58" width="5.88" height="5.88"/>
<rect x="268.78" y="732.46" width="4.92" height="5.88"/>
<rect x="262.9" y="738.34" width="5.88" height="5.88"/>
<rect x="268.78" y="744.22" width="4.92" height="5.88"/>
<rect x="262.9" y="750.1" width="5.88" height="5.88"/>
<rect x="268.78" y="755.98" width="4.92" height="5.88"/>
<rect x="262.9" y="761.86" width="5.88" height="5.88"/>
<rect x="268.78" y="767.74" width="4.92" height="5.88"/>
<rect x="262.9" y="773.62" width="5.88" height="5.88"/>
<rect x="268.78" y="779.5" width="4.92" height="3.3"/>
<rect x="263.57" y="721.38" width="9.45" height="60.75" fill="none" stroke="#000" stroke-width="1.35"/>
<line x1="268.3" y1="720.7" x2="268.3" y2="710.4" stroke="#000" stroke-width="1.3"/><line x1="265.7" y1="711" x2="270.9" y2="711" stroke="#000" stroke-width="1.3"/>
<text x="269.7" y="708.9" font-size="10.2" text-anchor="middle" class="st">***</text>
<rect x="283.13" y="727.5" width="4.92" height="5.88"/>
<rect x="277.25" y="733.38" width="5.88" height="5.88"/>
<rect x="283.13" y="739.26" width="4.92" height="5.88"/>
<rect x="277.25" y="745.14" width="5.88" height="5.88"/>
<rect x="283.13" y="751.02" width="4.92" height="5.88"/>
<rect x="277.25" y="756.9" width="5.88" height="5.88"/>
<rect x="283.13" y="762.78" width="4.92" height="5.88"/>
<rect x="277.25" y="768.66" width="5.88" height="5.88"/>
<rect x="283.13" y="774.54" width="4.92" height="5.88"/>
<rect x="277.25" y="780.42" width="5.88" height="2.38"/>
<rect x="277.93" y="728.17" width="9.45" height="53.95" fill="none" stroke="#000" stroke-width="1.35"/>
<line x1="282.65" y1="727.5" x2="282.65" y2="721.2" stroke="#000" stroke-width="1.3"/><line x1="280.05" y1="721.8" x2="285.25" y2="721.8" stroke="#000" stroke-width="1.3"/>
<text x="284.05" y="718.8" font-size="10.2" text-anchor="middle" class="st">***</text>
<rect x="297.48" y="752.2" width="4.92" height="5.88"/>
<rect x="291.6" y="758.08" width="5.88" height="5.88"/>
<rect x="297.48" y="763.96" width="4.92" height="5.88"/>
<rect x="291.6" y="769.84" width="5.88" height="5.88"/>
<rect x="297.48" y="775.72" width="4.92" height="5.88"/>
<rect x="291.6" y="781.6" width="5.88" height="1.2"/>
<rect x="292.28" y="752.88" width="9.45" height="29.25" fill="none" stroke="#000" stroke-width="1.35"/>
<line x1="297" y1="752.2" x2="297" y2="747.3" stroke="#000" stroke-width="1.3"/><line x1="294.4" y1="747.9" x2="299.6" y2="747.9" stroke="#000" stroke-width="1.3"/>
<text x="298.4" y="744.4" font-size="10.2" text-anchor="middle" class="st">***</text>
<rect x="316.1" y="548.7" width="10.8" height="1.2"/>
<rect x="316.1" y="554.58" width="10.8" height="1.2"/>
<rect x="316.1" y="560.46" width="10.8" height="1.2"/>
<rect x="316.1" y="566.34" width="10.8" height="1.2"/>
<rect x="316.1" y="572.22" width="10.8" height="1.2"/>
<rect x="316.1" y="578.1" width="10.8" height="1.2"/>
<rect x="316.1" y="583.98" width="10.8" height="1.2"/>
<rect x="316.1" y="589.86" width="10.8" height="1.2"/>
<rect x="316.1" y="595.74" width="10.8" height="1.2"/>
<rect x="316.1" y="601.62" width="10.8" height="1.2"/>
<rect x="316.1" y="607.5" width="10.8" height="1.2"/>
<rect x="316.1" y="613.38" width="10.8" height="1.2"/>
<rect x="316.1" y="619.26" width="10.8" height="1.2"/>
<rect x="316.1" y="625.14" width="10.8" height="1.2"/>
<rect x="316.1" y="631.02" width="10.8" height="1.2"/>
<rect x="316.1" y="636.9" width="10.8" height="1.2"/>
<rect x="316.1" y="642.78" width="10.8" height="1.2"/>
<rect x="316.1" y="648.66" width="10.8" height="1.2"/>
<rect x="316.1" y="654.54" width="10.8" height="1.2"/>
<rect x="316.1" y="660.42" width="10.8" height="1.2"/>
<rect x="316.1" y="666.3" width="10.8" height="1.2"/>
<rect x="316.1" y="672.18" width="10.8" height="1.2"/>
<rect x="316.1" y="678.06" width="10.8" height="1.2"/>
<rect x="316.1" y="683.94" width="10.8" height="1.2"/>
<rect x="316.1" y="689.82" width="10.8" height="1.2"/>
<rect x="316.1" y="695.7" width="10.8" height="1.2"/>
<rect x="316.1" y="701.58" width="10.8" height="1.2"/>
<rect x="316.1" y="707.46" width="10.8" height="1.2"/>
<rect x="316.1" y="713.34" width="10.8" height="1.2"/>
<rect x="316.1" y="719.22" width="10.8" height="1.2"/>
<rect x="316.1" y="725.1" width="10.8" height="1.2"/>
<rect x="316.1" y="730.98" width="10.8" height="1.2"/>
<rect x="316.1" y="736.86" width="10.8" height="1.2"/>
<rect x="316.1" y="742.74" width="10.8" height="1.2"/>
<rect x="316.1" y="748.62" width="10.8" height="1.2"/>
<rect x="316.1" y="754.5" width="10.8" height="1.2"/>
<rect x="316.1" y="760.38" width="10.8" height="1.2"/>
<rect x="316.1" y="766.26" width="10.8" height="1.2"/>
<rect x="316.1" y="772.14" width="10.8" height="1.2"/>
<rect x="316.1" y="778.02" width="10.8" height="1.2"/>
<rect x="316.78" y="547.97" width="9.45" height="234.15" fill="none" stroke="#000" stroke-width="1.35"/>
<line x1="321.5" y1="547.3" x2="321.5" y2="531.6" stroke="#000" stroke-width="1.3"/><line x1="318.9" y1="532.2" x2="324.1" y2="532.2" stroke="#000" stroke-width="1.3"/>
<rect x="330.45" y="682.5" width="10.8" height="1.2"/>
<rect x="330.45" y="688.38" width="10.8" height="1.2"/>
<rect x="330.45" y="694.26" width="10.8" height="1.2"/>
<rect x="330.45" y="700.14" width="10.8" height="1.2"/>
<rect x="330.45" y="706.02" width="10.8" height="1.2"/>
<rect x="330.45" y="711.9" width="10.8" height="1.2"/>
<rect x="330.45" y="717.78" width="10.8" height="1.2"/>
<rect x="330.45" y="723.66" width="10.8" height="1.2"/>
<rect x="330.45" y="729.54" width="10.8" height="1.2"/>
<rect x="330.45" y="735.42" width="10.8" height="1.2"/>
<rect x="330.45" y="741.3" width="10.8" height="1.2"/>
<rect x="330.45" y="747.18" width="10.8" height="1.2"/>
<rect x="330.45" y="753.06" width="10.8" height="1.2"/>
<rect x="330.45" y="758.94" width="10.8" height="1.2"/>
<rect x="330.45" y="764.82" width="10.8" height="1.2"/>
<rect x="330.45" y="770.7" width="10.8" height="1.2"/>
<rect x="330.45" y="776.58" width="10.8" height="1.2"/>
<rect x="331.13" y="681.77" width="9.45" height="100.35" fill="none" stroke="#000" stroke-width="1.35"/>
<line x1="335.85" y1="681.1" x2="335.85" y2="668.4" stroke="#000" stroke-width="1.3"/><line x1="333.25" y1="669" x2="338.45" y2="669" stroke="#000" stroke-width="1.3"/>
<text x="337.25" y="665.2" font-size="10.2" text-anchor="middle" class="st">***</text>
<rect x="344.8" y="689.5" width="10.8" height="1.2"/>
<rect x="344.8" y="695.38" width="10.8" height="1.2"/>
<rect x="344.8" y="701.26" width="10.8" height="1.2"/>
<rect x="344.8" y="707.14" width="10.8" height="1.2"/>
<rect x="344.8" y="713.02" width="10.8" height="1.2"/>
<rect x="344.8" y="718.9" width="10.8" height="1.2"/>
<rect x="344.8" y="724.78" width="10.8" height="1.2"/>
<rect x="344.8" y="730.66" width="10.8" height="1.2"/>
<rect x="344.8" y="736.54" width="10.8" height="1.2"/>
<rect x="344.8" y="742.42" width="10.8" height="1.2"/>
<rect x="344.8" y="748.3" width="10.8" height="1.2"/>
<rect x="344.8" y="754.18" width="10.8" height="1.2"/>
<rect x="344.8" y="760.06" width="10.8" height="1.2"/>
<rect x="344.8" y="765.94" width="10.8" height="1.2"/>
<rect x="344.8" y="771.82" width="10.8" height="1.2"/>
<rect x="344.8" y="777.7" width="10.8" height="1.2"/>
<rect x="345.48" y="688.77" width="9.45" height="93.35" fill="none" stroke="#000" stroke-width="1.35"/>
<line x1="350.2" y1="688.1" x2="350.2" y2="679.8" stroke="#000" stroke-width="1.3"/><line x1="347.6" y1="680.4" x2="352.8" y2="680.4" stroke="#000" stroke-width="1.3"/>
<text x="351.6" y="676.3" font-size="10.2" text-anchor="middle" class="st">***</text>
<rect x="359.15" y="702.9" width="10.8" height="1.2"/>
<rect x="359.15" y="708.78" width="10.8" height="1.2"/>
<rect x="359.15" y="714.66" width="10.8" height="1.2"/>
<rect x="359.15" y="720.54" width="10.8" height="1.2"/>
<rect x="359.15" y="726.42" width="10.8" height="1.2"/>
<rect x="359.15" y="732.3" width="10.8" height="1.2"/>
<rect x="359.15" y="738.18" width="10.8" height="1.2"/>
<rect x="359.15" y="744.06" width="10.8" height="1.2"/>
<rect x="359.15" y="749.94" width="10.8" height="1.2"/>
<rect x="359.15" y="755.82" width="10.8" height="1.2"/>
<rect x="359.15" y="761.7" width="10.8" height="1.2"/>
<rect x="359.15" y="767.58" width="10.8" height="1.2"/>
<rect x="359.15" y="773.46" width="10.8" height="1.2"/>
<rect x="359.15" y="779.34" width="10.8" height="1.2"/>
<rect x="359.83" y="702.17" width="9.45" height="79.95" fill="none" stroke="#000" stroke-width="1.35"/>
<line x1="364.55" y1="701.5" x2="364.55" y2="694.4" stroke="#000" stroke-width="1.3"/><line x1="361.95" y1="695" x2="367.15" y2="695" stroke="#000" stroke-width="1.3"/>
<text x="365.95" y="691.3" font-size="10.2" text-anchor="middle" class="st">***</text>
<rect x="373.5" y="663.2" width="10.8" height="1.2"/>
<rect x="373.5" y="669.08" width="10.8" height="1.2"/>
<rect x="373.5" y="674.96" width="10.8" height="1.2"/>
<rect x="373.5" y="680.84" width="10.8" height="1.2"/>
<rect x="373.5" y="686.72" width="10.8" height="1.2"/>
<rect x="373.5" y="692.6" width="10.8" height="1.2"/>
<rect x="373.5" y="698.48" width="10.8" height="1.2"/>
<rect x="373.5" y="704.36" width="10.8" height="1.2"/>
<rect x="373.5" y="710.24" width="10.8" height="1.2"/>
<rect x="373.5" y="716.12" width="10.8" height="1.2"/>
<rect x="373.5" y="722" width="10.8" height="1.2"/>
<rect x="373.5" y="727.88" width="10.8" height="1.2"/>
<rect x="373.5" y="733.76" width="10.8" height="1.2"/>
<rect x="373.5" y="739.64" width="10.8" height="1.2"/>
<rect x="373.5" y="745.52" width="10.8" height="1.2"/>
<rect x="373.5" y="751.4" width="10.8" height="1.2"/>
<rect x="373.5" y="757.28" width="10.8" height="1.2"/>
<rect x="373.5" y="763.16" width="10.8" height="1.2"/>
<rect x="373.5" y="769.04" width="10.8" height="1.2"/>
<rect x="373.5" y="774.92" width="10.8" height="1.2"/>
<rect x="373.5" y="780.8" width="10.8" height="1.2"/>
<rect x="374.18" y="662.47" width="9.45" height="119.65" fill="none" stroke="#000" stroke-width="1.35"/>
<line x1="378.9" y1="661.8" x2="378.9" y2="648.2" stroke="#000" stroke-width="1.3"/><line x1="376.3" y1="648.8" x2="381.5" y2="648.8" stroke="#000" stroke-width="1.3"/>
<text x="380.3" y="644.1" font-size="10.2" text-anchor="middle" class="st">***</text>
<rect x="387.85" y="688.6" width="10.8" height="1.2"/>
<rect x="387.85" y="694.48" width="10.8" height="1.2"/>
<rect x="387.85" y="700.36" width="10.8" height="1.2"/>
<rect x="387.85" y="706.24" width="10.8" height="1.2"/>
<rect x="387.85" y="712.12" width="10.8" height="1.2"/>
<rect x="387.85" y="718" width="10.8" height="1.2"/>
<rect x="387.85" y="723.88" width="10.8" height="1.2"/>
<rect x="387.85" y="729.76" width="10.8" height="1.2"/>
<rect x="387.85" y="735.64" width="10.8" height="1.2"/>
<rect x="387.85" y="741.52" width="10.8" height="1.2"/>
<rect x="387.85" y="747.4" width="10.8" height="1.2"/>
<rect x="387.85" y="753.28" width="10.8" height="1.2"/>
<rect x="387.85" y="759.16" width="10.8" height="1.2"/>
<rect x="387.85" y="765.04" width="10.8" height="1.2"/>
<rect x="387.85" y="770.92" width="10.8" height="1.2"/>
<rect x="387.85" y="776.8" width="10.8" height="1.2"/>
<rect x="388.53" y="687.88" width="9.45" height="94.25" fill="none" stroke="#000" stroke-width="1.35"/>
<line x1="393.25" y1="687.2" x2="393.25" y2="675.8" stroke="#000" stroke-width="1.3"/><line x1="390.65" y1="676.4" x2="395.85" y2="676.4" stroke="#000" stroke-width="1.3"/>
<text x="394.65" y="673.7" font-size="10.2" text-anchor="middle" class="st">***</text>
<rect x="402.2" y="702.9" width="10.8" height="1.2"/>
<rect x="402.2" y="708.78" width="10.8" height="1.2"/>
<rect x="402.2" y="714.66" width="10.8" height="1.2"/>
<rect x="402.2" y="720.54" width="10.8" height="1.2"/>
<rect x="402.2" y="726.42" width="10.8" height="1.2"/>
<rect x="402.2" y="732.3" width="10.8" height="1.2"/>
<rect x="402.2" y="738.18" width="10.8" height="1.2"/>
<rect x="402.2" y="744.06" width="10.8" height="1.2"/>
<rect x="402.2" y="749.94" width="10.8" height="1.2"/>
<rect x="402.2" y="755.82" width="10.8" height="1.2"/>
<rect x="402.2" y="761.7" width="10.8" height="1.2"/>
<rect x="402.2" y="767.58" width="10.8" height="1.2"/>
<rect x="402.2" y="773.46" width="10.8" height="1.2"/>
<rect x="402.2" y="779.34" width="10.8" height="1.2"/>
<rect x="402.88" y="702.17" width="9.45" height="79.95" fill="none" stroke="#000" stroke-width="1.35"/>
<line x1="407.6" y1="701.5" x2="407.6" y2="693.6" stroke="#000" stroke-width="1.3"/><line x1="405" y1="694.2" x2="410.2" y2="694.2" stroke="#000" stroke-width="1.3"/>
<text x="409" y="690.2" font-size="10.2" text-anchor="middle" class="st">***</text>
<rect x="430" y="576.7" width="1.2" height="206.1"/>
<rect x="435.88" y="576.7" width="1.2" height="206.1"/>
<rect x="427.38" y="577.38" width="9.45" height="204.75" fill="none" stroke="#000" stroke-width="1.35"/>
<line x1="432.1" y1="576.7" x2="432.1" y2="559.1" stroke="#000" stroke-width="1.3"/><line x1="429.5" y1="559.7" x2="434.7" y2="559.7" stroke="#000" stroke-width="1.3"/>
<rect x="444.35" y="596.4" width="1.2" height="186.4"/>
<rect x="450.23" y="596.4" width="1.2" height="186.4"/>
<rect x="441.73" y="597.07" width="9.45" height="185.05" fill="none" stroke="#000" stroke-width="1.35"/>
<line x1="446.45" y1="596.4" x2="446.45" y2="574.8" stroke="#000" stroke-width="1.3"/><line x1="443.85" y1="575.4" x2="449.05" y2="575.4" stroke="#000" stroke-width="1.3"/>
<rect x="458.7" y="673.1" width="1.2" height="109.7"/>
<rect x="464.58" y="673.1" width="1.2" height="109.7"/>
<rect x="456.07" y="673.77" width="9.45" height="108.35" fill="none" stroke="#000" stroke-width="1.35"/>
<line x1="460.8" y1="673.1" x2="460.8" y2="665" stroke="#000" stroke-width="1.3"/><line x1="458.2" y1="665.6" x2="463.4" y2="665.6" stroke="#000" stroke-width="1.3"/>
<text x="462.2" y="662" font-size="10.2" text-anchor="middle" class="st">***</text>
<rect x="473.05" y="685.7" width="1.2" height="97.1"/>
<rect x="478.93" y="685.7" width="1.2" height="97.1"/>
<rect x="470.43" y="686.38" width="9.45" height="95.75" fill="none" stroke="#000" stroke-width="1.35"/>
<line x1="475.15" y1="685.7" x2="475.15" y2="672.8" stroke="#000" stroke-width="1.3"/><line x1="472.55" y1="673.4" x2="477.75" y2="673.4" stroke="#000" stroke-width="1.3"/>
<text x="476.55" y="667.6" font-size="10.2" text-anchor="middle" class="st">***</text>
<rect x="487.4" y="549.4" width="1.2" height="233.4"/>
<rect x="493.28" y="549.4" width="1.2" height="233.4"/>
<rect x="484.77" y="550.07" width="9.45" height="232.05" fill="none" stroke="#000" stroke-width="1.35"/>
<line x1="489.5" y1="549.4" x2="489.5" y2="534.6" stroke="#000" stroke-width="1.3"/><line x1="486.9" y1="535.2" x2="492.1" y2="535.2" stroke="#000" stroke-width="1.3"/>
<rect x="501.75" y="624.1" width="1.2" height="158.7"/>
<rect x="507.63" y="624.1" width="1.2" height="158.7"/>
<rect x="499.12" y="624.77" width="9.45" height="157.35" fill="none" stroke="#000" stroke-width="1.35"/>
<line x1="503.85" y1="624.1" x2="503.85" y2="612.5" stroke="#000" stroke-width="1.3"/><line x1="501.25" y1="613.1" x2="506.45" y2="613.1" stroke="#000" stroke-width="1.3"/>
<text x="505.25" y="610.9" font-size="10.2" text-anchor="middle" class="st">***</text>
<rect x="516.1" y="673.8" width="1.2" height="109"/>
<rect x="521.98" y="673.8" width="1.2" height="109"/>
<rect x="513.47" y="674.47" width="9.45" height="107.65" fill="none" stroke="#000" stroke-width="1.35"/>
<line x1="518.2" y1="673.8" x2="518.2" y2="665.1" stroke="#000" stroke-width="1.3"/><line x1="515.6" y1="665.7" x2="520.8" y2="665.7" stroke="#000" stroke-width="1.3"/>
<text x="519.6" y="662" font-size="10.2" text-anchor="middle" class="st">***</text>
<line x1="88.8" y1="487.7" x2="88.8" y2="783.6" stroke="#333" stroke-width="1.5"/>
<line x1="81.3" y1="783" x2="530" y2="783" stroke="#444" stroke-width="1.5"/>
<line x1="81.3" y1="782.8" x2="88.8" y2="782.8" stroke="#222" stroke-width="1.5"/>
<text x="79" y="790.3" text-anchor="end" class="yt">0</text>
<line x1="81.3" y1="723.92" x2="88.8" y2="723.92" stroke="#222" stroke-width="1.5"/>
<text x="79" y="731.42" text-anchor="end" class="yt">20</text>
<line x1="81.3" y1="665.04" x2="88.8" y2="665.04" stroke="#222" stroke-width="1.5"/>
<text x="79" y="672.54" text-anchor="end" class="yt">40</text>
<line x1="81.3" y1="606.16" x2="88.8" y2="606.16" stroke="#222" stroke-width="1.5"/>
<text x="79" y="613.66" text-anchor="end" class="yt">60</text>
<line x1="81.3" y1="547.28" x2="88.8" y2="547.28" stroke="#222" stroke-width="1.5"/>
<text x="79" y="554.78" text-anchor="end" class="yt">80</text>
<line x1="81.3" y1="488.4" x2="88.8" y2="488.4" stroke="#222" stroke-width="1.5"/>
<text x="79" y="495.9" text-anchor="end" class="yt">100</text>
<line x1="100.3" y1="782.8" x2="100.3" y2="790" stroke="#222" stroke-width="1.2"/>
<line x1="114.65" y1="782.8" x2="114.65" y2="790" stroke="#222" stroke-width="1.2"/>
<line x1="129" y1="782.8" x2="129" y2="790" stroke="#222" stroke-width="1.2"/>
<line x1="143.35" y1="782.8" x2="143.35" y2="790" stroke="#222" stroke-width="1.2"/>
<line x1="157.7" y1="782.8" x2="157.7" y2="790" stroke="#222" stroke-width="1.2"/>
<line x1="172.05" y1="782.8" x2="172.05" y2="790" stroke="#222" stroke-width="1.2"/>
<line x1="186.4" y1="782.8" x2="186.4" y2="790" stroke="#222" stroke-width="1.2"/>
<line x1="210.9" y1="782.8" x2="210.9" y2="790" stroke="#222" stroke-width="1.2"/>
<line x1="225.25" y1="782.8" x2="225.25" y2="790" stroke="#222" stroke-width="1.2"/>
<line x1="239.6" y1="782.8" x2="239.6" y2="790" stroke="#222" stroke-width="1.2"/>
<line x1="253.95" y1="782.8" x2="253.95" y2="790" stroke="#222" stroke-width="1.2"/>
<line x1="268.3" y1="782.8" x2="268.3" y2="790" stroke="#222" stroke-width="1.2"/>
<line x1="282.65" y1="782.8" x2="282.65" y2="790" stroke="#222" stroke-width="1.2"/>
<line x1="297" y1="782.8" x2="297" y2="790" stroke="#222" stroke-width="1.2"/>
<line x1="321.5" y1="782.8" x2="321.5" y2="790" stroke="#222" stroke-width="1.2"/>
<line x1="335.85" y1="782.8" x2="335.85" y2="790" stroke="#222" stroke-width="1.2"/>
<line x1="350.2" y1="782.8" x2="350.2" y2="790" stroke="#222" stroke-width="1.2"/>
<line x1="364.55" y1="782.8" x2="364.55" y2="790" stroke="#222" stroke-width="1.2"/>
<line x1="378.9" y1="782.8" x2="378.9" y2="790" stroke="#222" stroke-width="1.2"/>
<line x1="393.25" y1="782.8" x2="393.25" y2="790" stroke="#222" stroke-width="1.2"/>
<line x1="407.6" y1="782.8" x2="407.6" y2="790" stroke="#222" stroke-width="1.2"/>
<line x1="432.1" y1="782.8" x2="432.1" y2="790" stroke="#222" stroke-width="1.2"/>
<line x1="446.45" y1="782.8" x2="446.45" y2="790" stroke="#222" stroke-width="1.2"/>
<line x1="460.8" y1="782.8" x2="460.8" y2="790" stroke="#222" stroke-width="1.2"/>
<line x1="475.15" y1="782.8" x2="475.15" y2="790" stroke="#222" stroke-width="1.2"/>
<line x1="489.5" y1="782.8" x2="489.5" y2="790" stroke="#222" stroke-width="1.2"/>
<line x1="503.85" y1="782.8" x2="503.85" y2="790" stroke="#222" stroke-width="1.2"/>
<line x1="518.2" y1="782.8" x2="518.2" y2="790" stroke="#222" stroke-width="1.2"/>
<text transform="translate(104,799.4) rotate(-48) scale(0.86,1)" text-anchor="end" class="xt">CTL</text>
<text transform="translate(118.31,799.35) rotate(-48) scale(0.86,1)" text-anchor="end" class="xt">CTE 50</text>
<text transform="translate(132.62,799.31) rotate(-48) scale(0.86,1)" text-anchor="end" class="xt">CTE 100</text>
<text transform="translate(146.93,799.27) rotate(-48) scale(0.86,1)" text-anchor="end" class="xt">CTE 200</text>
<text transform="translate(161.24,799.22) rotate(-48) scale(0.86,1)" text-anchor="end" class="xt">GTE 50</text>
<text transform="translate(175.54,799.18) rotate(-48) scale(0.86,1)" text-anchor="end" class="xt">GTE 100</text>
<text transform="translate(189.85,799.13) rotate(-48) scale(0.86,1)" text-anchor="end" class="xt">GTE 200</text>
<text transform="translate(214.28,799.06) rotate(-48) scale(0.86,1)" text-anchor="end" class="xt">CTL</text>
<text transform="translate(228.59,799.01) rotate(-48) scale(0.86,1)" text-anchor="end" class="xt">CTE 50</text>
<text transform="translate(242.9,798.97) rotate(-48) scale(0.86,1)" text-anchor="end" class="xt">CTE 100</text>
<text transform="translate(257.21,798.92) rotate(-48) scale(0.86,1)" text-anchor="end" class="xt">CTE 200</text>
<text transform="translate(271.52,798.88) rotate(-48) scale(0.86,1)" text-anchor="end" class="xt">GTE 50</text>
<text transform="translate(285.83,798.83) rotate(-48) scale(0.86,1)" text-anchor="end" class="xt">GTE 100</text>
<text transform="translate(300.14,798.79) rotate(-48) scale(0.86,1)" text-anchor="end" class="xt">GTE 200</text>
<text transform="translate(324.57,798.71) rotate(-48) scale(0.86,1)" text-anchor="end" class="xt">CTL</text>
<text transform="translate(338.88,798.67) rotate(-48) scale(0.86,1)" text-anchor="end" class="xt">CTE 50</text>
<text transform="translate(353.19,798.63) rotate(-48) scale(0.86,1)" text-anchor="end" class="xt">CTE 100</text>
<text transform="translate(367.49,798.58) rotate(-48) scale(0.86,1)" text-anchor="end" class="xt">CTE 200</text>
<text transform="translate(381.8,798.54) rotate(-48) scale(0.86,1)" text-anchor="end" class="xt">GTE 50</text>
<text transform="translate(396.11,798.49) rotate(-48) scale(0.86,1)" text-anchor="end" class="xt">GTE 100</text>
<text transform="translate(410.42,798.45) rotate(-48) scale(0.86,1)" text-anchor="end" class="xt">GTE 200</text>
<text transform="translate(434.85,798.37) rotate(-48) scale(0.86,1)" text-anchor="end" class="xt">CTL</text>
<text transform="translate(449.16,798.33) rotate(-48) scale(0.86,1)" text-anchor="end" class="xt">CTE 50</text>
<text transform="translate(463.47,798.28) rotate(-48) scale(0.86,1)" text-anchor="end" class="xt">CTE 100</text>
<text transform="translate(477.78,798.24) rotate(-48) scale(0.86,1)" text-anchor="end" class="xt">CTE 200</text>
<text transform="translate(492.09,798.19) rotate(-48) scale(0.86,1)" text-anchor="end" class="xt">GTE 50</text>
<text transform="translate(506.4,798.15) rotate(-48) scale(0.86,1)" text-anchor="end" class="xt">GTE 100</text>
<text transform="translate(520.71,798.11) rotate(-48) scale(0.86,1)" text-anchor="end" class="xt">GTE 200</text>
<path d="M239,725 L239,688.3 L286,688.3 L286,707.4" fill="none" stroke="#000" stroke-width="1.5" stroke-dasharray="4.6,2.6"/>
<text x="263.9" y="682.7" font-size="9.2" text-anchor="middle" class="st">*</text>
<path d="M460.6,640.2 L460.6,506.9 L508,506.9 L508,586.8" fill="none" stroke="#000" stroke-width="1.5" stroke-dasharray="4.6,2.6"/>
<text x="486.1" y="502.7" font-size="9.2" text-anchor="middle" class="st">***</text>
<rect x="558.3" y="498.8" width="2.94" height="2.94"/>
<rect x="564.18" y="498.8" width="2.94" height="2.94"/>
<rect x="570.06" y="498.8" width="2.94" height="2.94"/>
<rect x="575.94" y="498.8" width="2.94" height="2.94"/>
<rect x="581.82" y="498.8" width="2.94" height="2.94"/>
<rect x="587.7" y="498.8" width="2.94" height="2.94"/>
<rect x="561.24" y="501.74" width="2.94" height="2.94"/>
<rect x="567.12" y="501.74" width="2.94" height="2.94"/>
<rect x="573" y="501.74" width="2.94" height="2.94"/>
<rect x="578.88" y="501.74" width="2.94" height="2.94"/>
<rect x="584.76" y="501.74" width="2.94" height="2.94"/>
<rect x="590.64" y="501.74" width="2.86" height="2.94"/>
<rect x="558.3" y="504.68" width="2.94" height="2.94"/>
<rect x="564.18" y="504.68" width="2.94" height="2.94"/>
<rect x="570.06" y="504.68" width="2.94" height="2.94"/>
<rect x="575.94" y="504.68" width="2.94" height="2.94"/>
<rect x="581.82" y="504.68" width="2.94" height="2.94"/>
<rect x="587.7" y="504.68" width="2.94" height="2.94"/>
<rect x="561.24" y="507.62" width="2.94" height="2.94"/>
<rect x="567.12" y="507.62" width="2.94" height="2.94"/>
<rect x="573" y="507.62" width="2.94" height="2.94"/>
<rect x="578.88" y="507.62" width="2.94" height="2.94"/>
<rect x="584.76" y="507.62" width="2.94" height="2.94"/>
<rect x="590.64" y="507.62" width="2.86" height="2.94"/>
<rect x="558.3" y="510.56" width="2.94" height="2.94"/>
<rect x="564.18" y="510.56" width="2.94" height="2.94"/>
<rect x="570.06" y="510.56" width="2.94" height="2.94"/>
<rect x="575.94" y="510.56" width="2.94" height="2.94"/>
<rect x="581.82" y="510.56" width="2.94" height="2.94"/>
<rect x="587.7" y="510.56" width="2.94" height="2.94"/>
<rect x="561.24" y="513.5" width="2.94" height="2.94"/>
<rect x="567.12" y="513.5" width="2.94" height="2.94"/>
<rect x="573" y="513.5" width="2.94" height="2.94"/>
<rect x="578.88" y="513.5" width="2.94" height="2.94"/>
<rect x="584.76" y="513.5" width="2.94" height="2.94"/>
<rect x="590.64" y="513.5" width="2.86" height="2.94"/>
<rect x="558.3" y="516.44" width="2.94" height="2.94"/>
<rect x="564.18" y="516.44" width="2.94" height="2.94"/>
<rect x="570.06" y="516.44" width="2.94" height="2.94"/>
<rect x="575.94" y="516.44" width="2.94" height="2.94"/>
<rect x="581.82" y="516.44" width="2.94" height="2.94"/>
<rect x="587.7" y="516.44" width="2.94" height="2.94"/>
<rect x="561.24" y="519.38" width="2.94" height="0.02"/>
<rect x="567.12" y="519.38" width="2.94" height="0.02"/>
<rect x="573" y="519.38" width="2.94" height="0.02"/>
<rect x="578.88" y="519.38" width="2.94" height="0.02"/>
<rect x="584.76" y="519.38" width="2.94" height="0.02"/>
<rect x="590.64" y="519.38" width="2.86" height="0.02"/>
<rect x="558.97" y="499.48" width="33.85" height="19.25" fill="none" stroke="#000" stroke-width="1.35"/>
<text transform="translate(609.8,515.8) scale(1.0,1)" class="lg">0</text>
<rect x="564.18" y="533" width="5.88" height="5.88"/>
<rect x="575.94" y="533" width="5.88" height="5.88"/>
<rect x="587.7" y="533" width="5.8" height="5.88"/>
<rect x="558.3" y="538.88" width="5.88" height="5.88"/>
<rect x="570.06" y="538.88" width="5.88" height="5.88"/>
<rect x="581.82" y="538.88" width="5.88" height="5.88"/>
<rect x="564.18" y="544.76" width="5.88" height="5.88"/>
<rect x="575.94" y="544.76" width="5.88" height="5.88"/>
<rect x="587.7" y="544.76" width="5.8" height="5.88"/>
<rect x="558.3" y="550.64" width="5.88" height="2.96"/>
<rect x="570.06" y="550.64" width="5.88" height="2.96"/>
<rect x="581.82" y="550.64" width="5.88" height="2.96"/>
<rect x="558.97" y="533.67" width="33.85" height="19.25" fill="none" stroke="#000" stroke-width="1.35"/>
<text transform="translate(609.8,550) scale(1.0,1)" class="lg">Day 3</text>
<rect x="558.3" y="568.8" width="35.2" height="1.2"/>
<rect x="558.3" y="574.68" width="35.2" height="1.2"/>
<rect x="558.3" y="580.56" width="35.2" height="1.2"/>
<rect x="558.3" y="586.44" width="35.2" height="1.2"/>
<rect x="558.97" y="568.07" width="33.85" height="19.25" fill="none" stroke="#000" stroke-width="1.35"/>
<text transform="translate(609.8,584.4) scale(1.0,1)" class="lg">Day 5</text>
<rect x="560.7" y="601.9" width="1.2" height="20.6"/>
<rect x="566.66" y="601.9" width="1.2" height="20.6"/>
<rect x="572.62" y="601.9" width="1.2" height="20.6"/>
<rect x="578.58" y="601.9" width="1.2" height="20.6"/>
<rect x="584.54" y="601.9" width="1.2" height="20.6"/>
<rect x="590.5" y="601.9" width="1.2" height="20.6"/>
<rect x="558.97" y="602.57" width="33.85" height="19.25" fill="none" stroke="#000" stroke-width="1.35"/>
<text transform="translate(609.8,618.9) scale(1.0,1)" class="lg">Day 8</text>
<text transform="translate(108.6,480.8) scale(0.85,1)" class="ti">B</text>
<text transform="translate(36.6,630.8) rotate(-90) scale(0.895,1)" text-anchor="middle" class="yl">Relative mRNA expression</text>
<text transform="translate(206.5,850) scale(0.885,1)" class="xl">Concentration(μg/ml)</text>
</svg></div>
</body></html>
